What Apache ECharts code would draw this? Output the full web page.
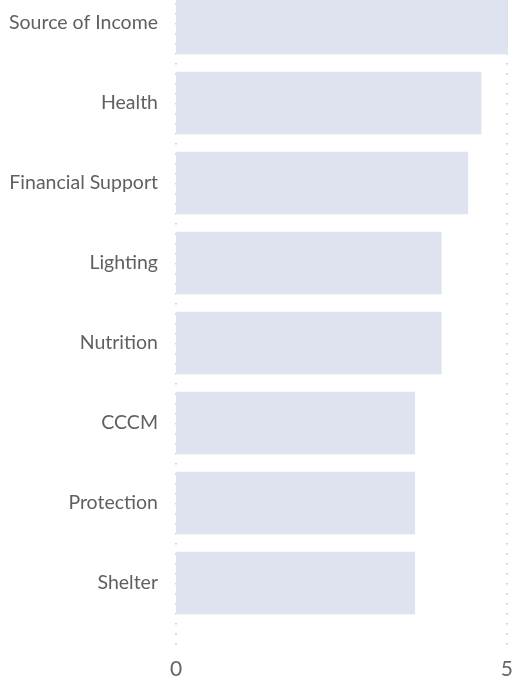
<!DOCTYPE html>
<html><head><meta charset="utf-8">
<script src="https://cdn.jsdelivr.net/npm/echarts@6/dist/echarts.min.js"></script>
<style>html,body{margin:0;padding:0;background:#fff;overflow:hidden}#c{width:516px;height:697px;margin-top:-17px}</style>
</head><body><div id="c"></div>
<script>
const categories = ["Source of Income","Health","Financial Support","Lighting","Nutrition","CCCM","Protection","Shelter"];
const values = [5, 4.6, 4.4, 4.0, 4.0, 3.6, 3.6, 3.6];
const xTicks = [0, 5];

const chart = echarts.init(document.getElementById('c'), null, {renderer:'canvas'});
const font = 'Lato, "Open Sans", sans-serif';
chart.setOption({
  animation:false,
  grid:[
    {left:176, right:8, top:0, bottom:57},
    {left:176, right:8, top:0, bottom:33}
  ],
  xAxis:[
    {gridIndex:0, type:'value', min:xTicks[0], max:xTicks[1], interval:5, show:false},
    {gridIndex:1, type:'value', min:xTicks[0], max:xTicks[1], interval:5,
     axisLine:{show:false}, axisTick:{show:false},
     splitLine:{show:true, lineStyle:{color:'#c4c4c4', width:1.5, type:[1.5,8.5]}},
     axisLabel:{fontFamily:font, fontSize:21, color:'#666', margin:12}}
  ],
  yAxis:[
    {gridIndex:0, type:'category', data:categories, inverse:true,
     axisLine:{show:false}, axisTick:{show:false},
     axisLabel:{fontFamily:font, fontSize:19.5, color:'#606060', margin:18, padding:[4,0,0,0]}},
    {gridIndex:1, type:'value', show:false}
  ],
  series:[{
    type:'bar', xAxisIndex:0, yAxisIndex:0, data:values,
    barCategoryGap:'22%', itemStyle:{color:'#dfe3f0'}, z:3
  }]
});
</script></body></html>
